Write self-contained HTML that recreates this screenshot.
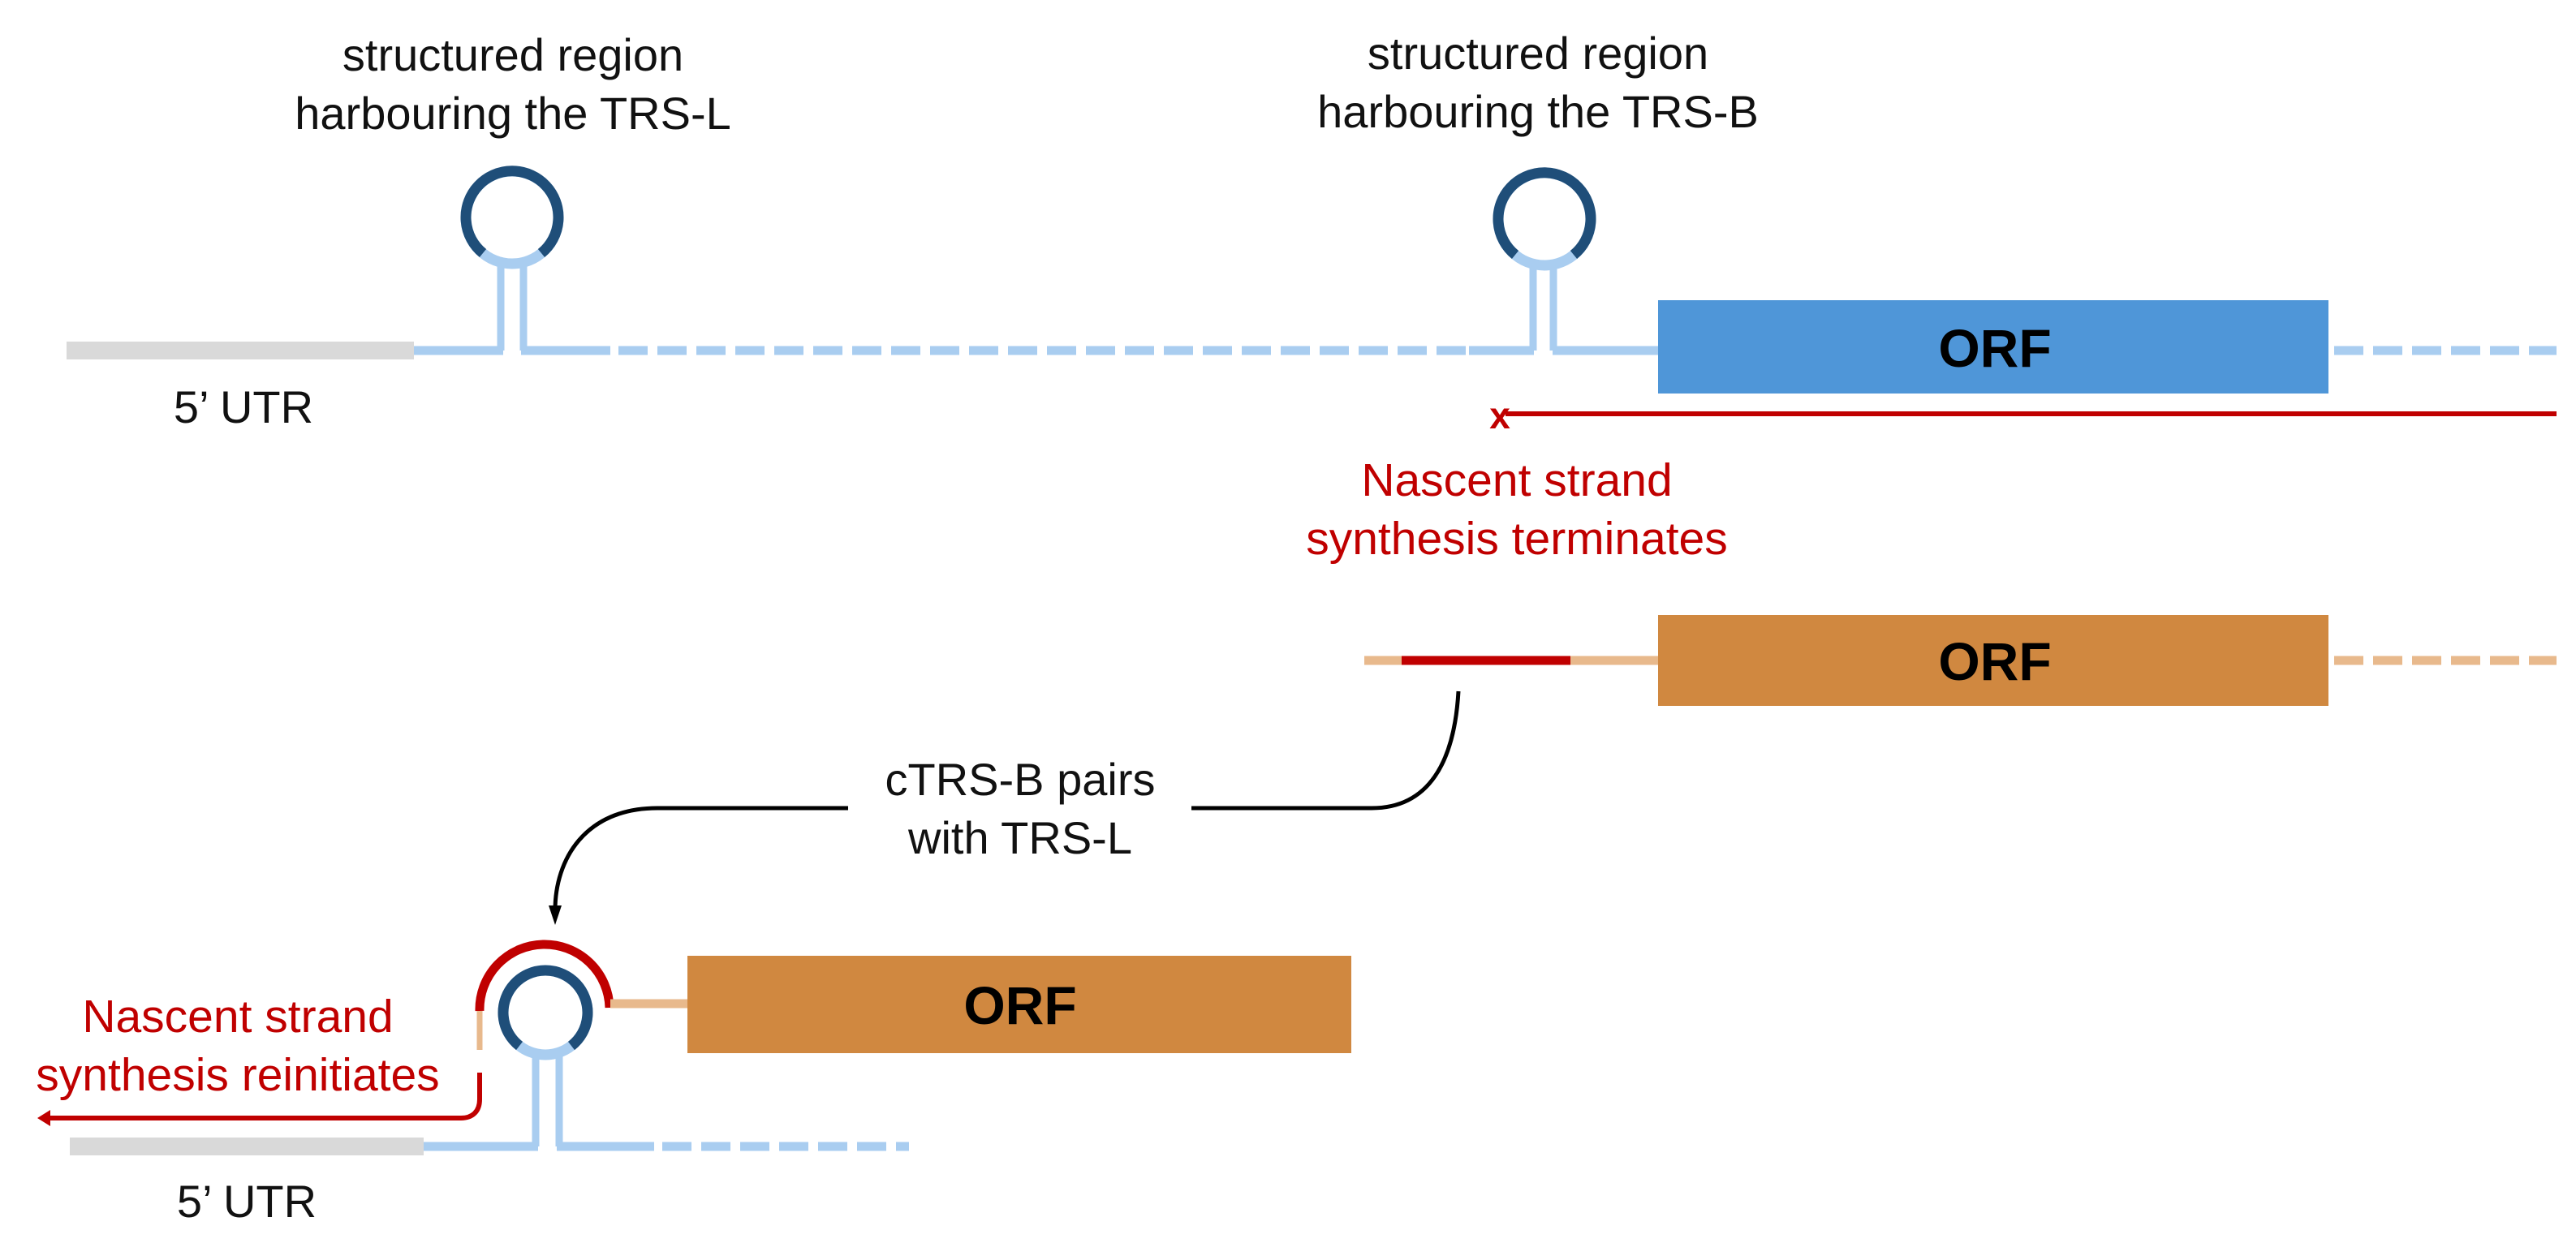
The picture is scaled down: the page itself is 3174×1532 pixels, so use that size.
<!DOCTYPE html>
<html><head><meta charset="utf-8"><style>
html,body{margin:0;padding:0;background:#fff}
svg{display:block}
text{font-family:"Liberation Sans",sans-serif}
</style></head><body>
<svg width="3174" height="1532" viewBox="0 0 3174 1532" xmlns="http://www.w3.org/2000/svg">
<g font-size="56" fill="#111" text-anchor="middle">
<text x="632" y="87">structured region</text>
<text x="632" y="159">harbouring the TRS-L</text>
<text x="1895" y="85">structured region</text>
<text x="1895" y="157">harbouring the TRS-B</text>
<text x="300" y="521">5’ UTR</text>
<text x="304" y="1500">5’ UTR</text>
<text x="1257" y="980">cTRS-B pairs</text>
<text x="1257" y="1052">with TRS-L</text>
</g>
<g font-size="57" fill="#c00000" text-anchor="middle">
<text x="1869" y="611">Nascent strand</text>
<text x="1869" y="683">synthesis terminates</text>
<text x="293" y="1272">Nascent strand</text>
<text x="293" y="1344">synthesis reinitiates</text>
</g>

<!-- Row 1 -->
<rect x="82" y="421" width="428" height="22" fill="#d9d9d9"/>
<line x1="510" y1="432" x2="620" y2="432" stroke="#a9cdf0" stroke-width="11"/>
<line x1="642" y1="432" x2="752" y2="432" stroke="#a9cdf0" stroke-width="11"/>
<line x1="617" y1="432" x2="617" y2="325" stroke="#a9cdf0" stroke-width="9"/>
<line x1="645" y1="432" x2="645" y2="325" stroke="#a9cdf0" stroke-width="9"/>
<circle cx="631" cy="268" r="57" fill="none" stroke="#a9cdf0" stroke-width="13"/>
<path d="M 595 312 A 57 57 0 1 1 667 312" fill="none" stroke="#1f4e79" stroke-width="13"/>
<line x1="762" y1="432" x2="1815" y2="432" stroke="#a9cdf0" stroke-width="11" stroke-dasharray="36 12"/>
<line x1="1810" y1="432" x2="1890" y2="432" stroke="#a9cdf0" stroke-width="11"/>
<line x1="1913" y1="432" x2="2045" y2="432" stroke="#a9cdf0" stroke-width="11"/>
<line x1="1889" y1="432" x2="1889" y2="323" stroke="#a9cdf0" stroke-width="9"/>
<line x1="1914" y1="432" x2="1914" y2="323" stroke="#a9cdf0" stroke-width="9"/>
<circle cx="1903" cy="270" r="57" fill="none" stroke="#a9cdf0" stroke-width="13"/>
<path d="M 1867 314 A 57 57 0 1 1 1939 314" fill="none" stroke="#1f4e79" stroke-width="13"/>
<rect x="2043" y="370" width="826" height="115" fill="#4f96d8"/>
<text x="2458" y="452" font-size="66" font-weight="bold" text-anchor="middle" fill="#000">ORF</text>
<line x1="2876" y1="432" x2="3150" y2="432" stroke="#a9cdf0" stroke-width="11" stroke-dasharray="36 12"/>
<line x1="1855" y1="510" x2="3150" y2="510" stroke="#c00000" stroke-width="6"/>
<text x="1848" y="528" font-size="46" font-weight="bold" fill="#c00000" text-anchor="middle">x</text>

<!-- Row 2 -->
<line x1="1681" y1="814" x2="2047" y2="814" stroke="#e8b98c" stroke-width="11"/>
<line x1="1727" y1="814" x2="1935" y2="814" stroke="#c00000" stroke-width="11"/>
<rect x="2043" y="758" width="826" height="112" fill="#d08840"/>
<text x="2458" y="838" font-size="66" font-weight="bold" text-anchor="middle" fill="#000">ORF</text>
<line x1="2876" y1="814" x2="3150" y2="814" stroke="#e8b98c" stroke-width="11" stroke-dasharray="36 12"/>

<!-- Connector -->
<path d="M 1797 852 C 1792 940 1760 996 1690 996 L 1468 996" fill="none" stroke="#000" stroke-width="5"/>
<path d="M 1045 996 L 810 996 C 720 996 684 1060 684 1122" fill="none" stroke="#000" stroke-width="5"/>
<path d="M 676 1116 L 684 1140 L 692 1116 Z" fill="#000"/>

<!-- Row 3 -->
<rect x="86" y="1402" width="436" height="22" fill="#d9d9d9"/>
<line x1="522" y1="1413" x2="663" y2="1413" stroke="#a9cdf0" stroke-width="11"/>
<line x1="686" y1="1413" x2="806" y2="1413" stroke="#a9cdf0" stroke-width="11"/>
<line x1="660" y1="1413" x2="660" y2="1302" stroke="#a9cdf0" stroke-width="9"/>
<line x1="689" y1="1413" x2="689" y2="1302" stroke="#a9cdf0" stroke-width="9"/>
<circle cx="672" cy="1248" r="52" fill="none" stroke="#a9cdf0" stroke-width="13"/>
<path d="M 640 1289 A 52 52 0 1 1 704 1289" fill="none" stroke="#1f4e79" stroke-width="13"/>
<line x1="816" y1="1413" x2="1120" y2="1413" stroke="#a9cdf0" stroke-width="11" stroke-dasharray="36 12"/>
<path d="M 591 1246 A 80 80 0 0 1 751 1242" fill="none" stroke="#c00000" stroke-width="11"/>
<line x1="591" y1="1246" x2="591" y2="1294" stroke="#e8b98c" stroke-width="7"/>
<line x1="752" y1="1237" x2="849" y2="1237" stroke="#e8b98c" stroke-width="11"/>
<rect x="847" y="1178" width="818" height="120" fill="#d08840"/>
<text x="1257" y="1262" font-size="66" font-weight="bold" text-anchor="middle" fill="#000">ORF</text>
<path d="M 591 1322 L 591 1355 C 591 1370 582 1378 568 1378 L 58 1378" fill="none" stroke="#c00000" stroke-width="6"/>
<path d="M 46 1378 L 62 1368 L 62 1388 Z" fill="#c00000"/>
</svg>
</body></html>
